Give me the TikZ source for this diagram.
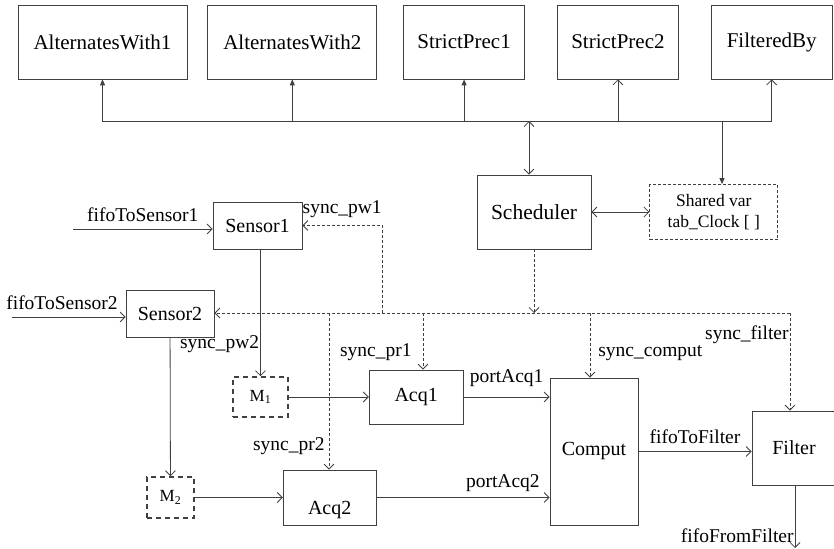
\documentclass[tikz,border=0pt]{standalone}
\usepackage{fontspec}
\setmainfont{Liberation Serif}
\usetikzlibrary{arrows.meta, positioning}
\tikzset{
  block/.style = {rectangle, draw, text centered, inner sep=0pt, font=\fontsize{20}{23}\selectfont},
  topblock/.style = {block, minimum height=74pt, font=\fontsize{21}{24}\selectfont},
  memory/.style = {rectangle, draw, line width=1.6pt, dash pattern=on 5pt off 4pt, inner sep=0pt, font=\fontsize{17}{20}\selectfont},
  line/.style = {draw, -{Straight Barb[length=5pt,width=10pt]}},
  both/.style = {draw, {Straight Barb[length=5pt,width=10pt]}-{Straight Barb[length=5pt,width=10pt]}},
  fline/.style = {draw, -{Triangle[length=6pt,width=5pt]}},
  sync/.style = {line, dash pattern=on 3pt off 2pt},
  tag/.style = {font=\fontsize{19.5}{22}\selectfont, inner sep=1pt}
}

\begin{document}
\begin{tikzpicture}[x=1pt, y=-1pt, line width=0.8pt, draw=black!75]
  \useasboundingbox (0,0) rectangle (834,548);

    % Observers
    \node[topblock, minimum width=169pt] (aw1) at (102.5,42) {AlternatesWith1};
    \node[topblock, minimum width=169pt, right=20pt of aw1] (aw2) {AlternatesWith2};
    \node[topblock, minimum width=121pt, right=26pt of aw2] (sp1) {StrictPrec1};
    \node[topblock, minimum width=121pt, right=32pt of sp1] (sp2) {StrictPrec2};
    \node[topblock, minimum width=121pt, right=32pt of sp2] (fb) {FilteredBy};

    % Scheduler and shared clock table
    \node[block, minimum width=114pt, minimum height=74pt, font=\fontsize{21.5}{24}\selectfont] (sched) at (534,212) {Scheduler};
    \node[block, dash pattern=on 3pt off 2pt, minimum width=128pt, minimum height=55pt, align=center, font=\fontsize{17.5}{21}\selectfont, right=58pt of sched] (shvar) {Shared var\\tab\_Clock [ ]};

    % Processes
    \node[block, minimum width=89pt, minimum height=47pt] (sen1) at (257.5,225.5) {Sensor1};
    \node[block, minimum width=88pt, minimum height=47pt] (sen2) at (170,313.5) {Sensor2};
    \node[memory, minimum width=55pt, minimum height=40pt] (m1) at (260.5,397) {M\textsubscript{1}};
    \node[memory, minimum width=47pt, minimum height=41pt] (m2) at (170.5,497.5) {M\textsubscript{2}};
    \node[block, minimum width=94pt, minimum height=54pt, right=80pt of m1] (acq1) {Acq1};
    \node[block, minimum width=93pt, minimum height=55pt, text height=38pt, text depth=4pt, right=88pt of m2] (acq2) {Acq2};
    \node[block, minimum width=88pt, minimum height=147pt] (comput) at (594,451.5) {Comput};
    \node[block, minimum width=84pt, minimum height=74pt] (filter) at (794,448) {Filter};

    % Bus points
    \coordinate (hub) at (529,121);
    \coordinate (hub2) at (722,121);
    \coordinate (in1) at (73,229);
    \coordinate (in2) at (12,317);
    \coordinate (out) at (795,548);
    \coordinate (sbus) at (534,313);
    \coordinate (pw1) at (382,313);
    \coordinate (pr2) at (329,313);
    \coordinate (pr1) at (423,313);
    \coordinate (cp) at (590,313);
    \coordinate (fcorner) at (790,313);

    % Arrows to observers
    \path [fline] (hub) -| (aw1);
    \path [fline] (hub) -| (aw2);
    \path [fline] (hub) -| (sp1);
    \path [line] (hub) -| (sp2);
    \path [line] (hub) -| (fb);
    \path [both] (hub) -- (hub |- sched.north);
    \path [fline] (hub2) -- (hub2 |- shvar.north);
    \path [both] (sched) -- (shvar);

    % Data flow
    \path [line] (in1) -- node[tag, midway, above=6pt] {fifoToSensor1} (in1 -| sen1.west);
    \path [line] (in2) -- node[tag, pos=0.44, above=6pt] {fifoToSensor2} (in2 -| sen2.west);
    \path [line] (m1 |- sen1.south) -- node[tag, pos=0.75, left] {sync\_pw2} (m1);
    \path [line] (sen2) -- (m2);
    \path [line] (m1) -- (acq1);
    \path [line] (m2) -- (acq2);
    \path [line] (acq1) -- node[tag, midway, above=9pt] {portAcq1} (acq1 -| comput.west);
    \path [line] (acq2) -- node[tag, pos=0.73, above=4pt] {portAcq2} (acq2 -| comput.west);
    \path [line] (comput.east) -- node[tag, midway, above=6pt] {fifoToFilter} (comput.east -| filter.west);
    \path [line] (filter.south -| out) -- node[tag, pos=0.8, left] {fifoFromFilter} (out);

    % Synchronisation signals
    \path [sync] (sched) -- (sbus);
    \path [sync] (fcorner) -- (fcorner -| sen2.east);
    \path [sync] (pw1) |- node[tag, pos=0.75, above=6pt] {sync\_pw1} (sen1);
    \path [sync] (pr2) -- node[tag, pos=0.85, left=3pt] {sync\_pr2} (pr2 |- acq2.north);
    \path [sync] (pr1) -- node[tag, pos=0.7, left=10pt] {sync\_pr1} (pr1 |- acq1.north);
    \path [sync] (cp) -- node[tag, pos=0.62, right=7pt] {sync\_comput} (cp |- comput.north);
    \path [sync] (fcorner) -- node[tag, pos=0.22, left] {sync\_filter} (fcorner |- filter.north);

  \end{tikzpicture}
\end{document}
